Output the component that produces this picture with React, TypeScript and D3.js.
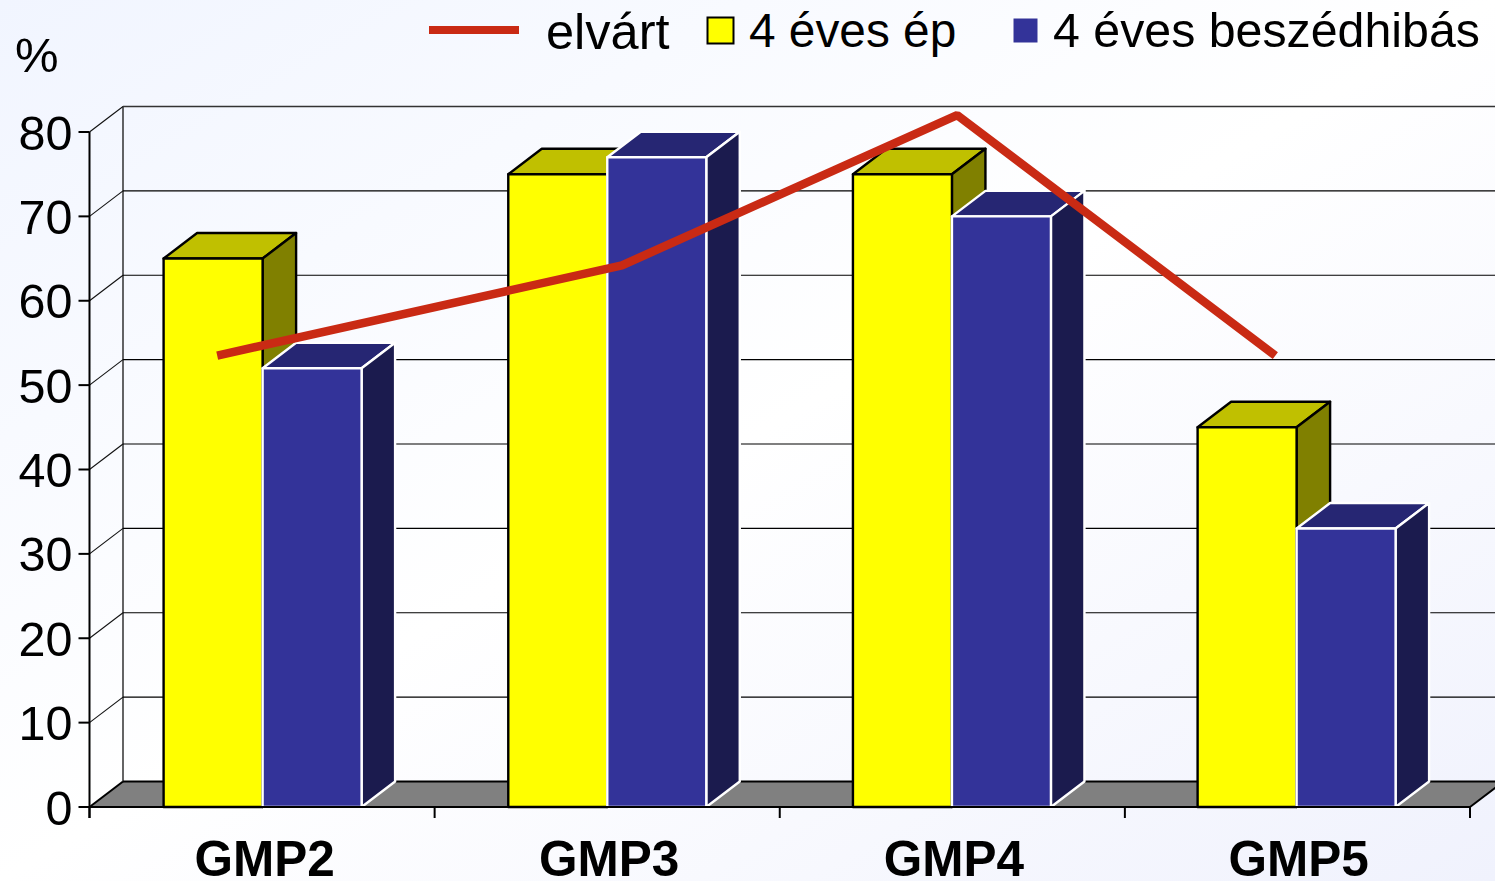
import React, { useEffect, useRef } from "react";
import * as d3 from "d3";

const categories = ["GMP2", "GMP3", "GMP4", "GMP5"];
const healthy = [65, 75, 75, 45];
const impaired = [52, 77, 70, 33];
const expected = [53.5, 64.2, 82, 53.5];
const expectedPos = [0.37, 1.543, 2.514, 3.436];
const yTicks = [0, 10, 20, 30, 40, 50, 60, 70, 80];
const W = 1495, H = 881;
const FONT = "'Liberation Sans', Arial, sans-serif";

export default function App() {
  const ref = useRef<SVGSVGElement>(null);
  useEffect(() => {
    const svg = d3.select(ref.current);
    svg.selectAll("*").remove();
    const defs = svg.append("defs");
    const g = defs.append("linearGradient").attr("id", "bg").attr("x1", 0).attr("y1", 0).attr("x2", 1).attr("y2", 1);
    g.append("stop").attr("offset", "0%").attr("stop-color", "#f1f5ff");
    g.append("stop").attr("offset", "50%").attr("stop-color", "#ffffff");
    g.append("stop").attr("offset", "100%").attr("stop-color", "#f0f2fd");
    svg.append("rect").attr("width", W).attr("height", H).attr("fill", "url(#bg)");

    const x = d3.scaleLinear().domain([0, 4]).range([89.5, 1470]);
    const cx = d3.scalePoint<string>().domain(categories).range([262.6, 1296.6]);
    const y = d3.scaleLinear().domain([0, 80]).range([807, 132]);
    const dx = 33.5, dy = -25.5;
    const barW = 99;

    // floor
    svg.append("polygon")
      .attr("points", [[x(0), y(0)], [x(0) + dx, y(0) + dy], [W + 10, y(0) + dy], [x(4), y(0)]].join(" "))
      .attr("fill", "#808080");
    svg.append("line").attr("x1", x(0) + dx).attr("x2", W).attr("y1", y(0) + dy).attr("y2", y(0) + dy)
      .attr("stroke", "#000").attr("stroke-width", 2);
    svg.append("line").attr("x1", x(0)).attr("x2", x(0) + dx).attr("y1", y(0)).attr("y2", y(0) + dy)
      .attr("stroke", "#000").attr("stroke-width", 2);
    svg.append("line").attr("x1", x(4)).attr("x2", x(4) + dx).attr("y1", y(0)).attr("y2", y(0) + dy)
      .attr("stroke", "#000").attr("stroke-width", 2);

    // gridlines and back wall
    svg.append("line").attr("x1", x(0) + dx).attr("x2", x(0) + dx).attr("y1", y(80) + dy).attr("y2", y(0) + dy)
      .attr("stroke", "#111").attr("stroke-width", 1.3);
    yTicks.forEach((t) => {
      if (t > 0) {
        svg.append("line").attr("x1", x(0)).attr("x2", x(0) + dx).attr("y1", y(t)).attr("y2", y(t) + dy)
          .attr("stroke", "#111").attr("stroke-width", 1.1);
        svg.append("line").attr("x1", x(0) + dx).attr("x2", W).attr("y1", y(t) + dy).attr("y2", y(t) + dy)
          .attr("stroke", t === 80 ? "#333" : "#000").attr("stroke-width", t === 80 ? 1.6 : 1.1);
      }
      svg.append("line").attr("x1", x(0) - 11).attr("x2", x(0)).attr("y1", y(t)).attr("y2", y(t))
        .attr("stroke", "#000").attr("stroke-width", 2);
      svg.append("text").attr("x", 72.5).attr("y", y(t) + 17.5).attr("text-anchor", "end")
        .attr("font-family", FONT).attr("font-size", 48.5).attr("fill", "#000").text(t);
    });

    // bars
    const bar = (bx: number, v: number, front: string, top: string, side: string, stroke: string) => {
      const yt = y(v), yb = y(0);
      const gg = svg.append("g").attr("stroke", stroke).attr("stroke-width", 2.4).attr("stroke-linejoin", "round");
      gg.append("polygon").attr("fill", top)
        .attr("points", [[bx, yt], [bx + dx, yt + dy], [bx + barW + dx, yt + dy], [bx + barW, yt]].join(" "));
      gg.append("polygon").attr("fill", side)
        .attr("points", [[bx + barW, yt], [bx + barW + dx, yt + dy], [bx + barW + dx, yb + dy], [bx + barW, yb]].join(" "));
      gg.append("rect").attr("fill", front).attr("x", bx).attr("y", yt).attr("width", barW).attr("height", yb - yt);
    };
    categories.forEach((cat, i) => {
      const c = cx(cat) as number;
      bar(c - barW, healthy[i], "#ffff00", "#c0c000", "#808000", "#000");
      bar(c, impaired[i], "#333399", "#262673", "#1b1b4e", "#fff");
    });

    // x axis
    svg.append("line").attr("x1", x(0)).attr("x2", x(4)).attr("y1", y(0)).attr("y2", y(0))
      .attr("stroke", "#000").attr("stroke-width", 2);
    svg.append("line").attr("x1", x(0)).attr("x2", x(0)).attr("y1", y(80)).attr("y2", y(0) + 11)
      .attr("stroke", "#000").attr("stroke-width", 2);
    d3.range(0, 5).forEach((i) => {
      svg.append("line").attr("x1", x(i)).attr("x2", x(i)).attr("y1", y(0)).attr("y2", y(0) + 11)
        .attr("stroke", "#000").attr("stroke-width", 2);
    });
    categories.forEach((c) => {
      svg.append("text").attr("x", (cx(c) as number) + 2).attr("y", 876).attr("text-anchor", "middle")
        .attr("font-family", FONT).attr("font-weight", 700).attr("font-size", 49.5).attr("fill", "#000").text(c);
    });

    // expected line
    const line = d3.line<number>().x((_, i) => x(expectedPos[i])).y((d) => y(d));
    svg.append("path").attr("d", line(expected)).attr("fill", "none").attr("stroke", "#c92a14")
      .attr("stroke-width", 8.5).attr("stroke-linejoin", "bevel");

    // labels & legend
    const label = (tx: number, ty: number, s: string, size = 48) =>
      svg.append("text").attr("x", tx).attr("y", ty).attr("font-family", FONT).attr("font-size", size).attr("fill", "#000").text(s);
    label(15, 71.5, "%", 49);
    svg.append("line").attr("x1", 429).attr("x2", 519).attr("y1", 30).attr("y2", 30)
      .attr("stroke", "#c92a14").attr("stroke-width", 8);
    label(546, 49, "elvárt", 50.5);
    svg.append("rect").attr("x", 707.5).attr("y", 17.5).attr("width", 26).attr("height", 26)
      .attr("fill", "#ffff00").attr("stroke", "#000").attr("stroke-width", 2);
    label(749, 47, "4 éves ép", 47.8);
    svg.append("rect").attr("x", 1013).attr("y", 18).attr("width", 25).attr("height", 25)
      .attr("fill", "#333399").attr("stroke", "#fff").attr("stroke-width", 1);
    label(1053, 47, "4 éves beszédhibás", 48.3);
  }, []);
  return (
    <svg ref={ref} width={W} height={H} viewBox={`0 0 ${W} ${H}`}
      style={{ position: "fixed", left: 0, top: 0, display: "block" }} />
  );
}
